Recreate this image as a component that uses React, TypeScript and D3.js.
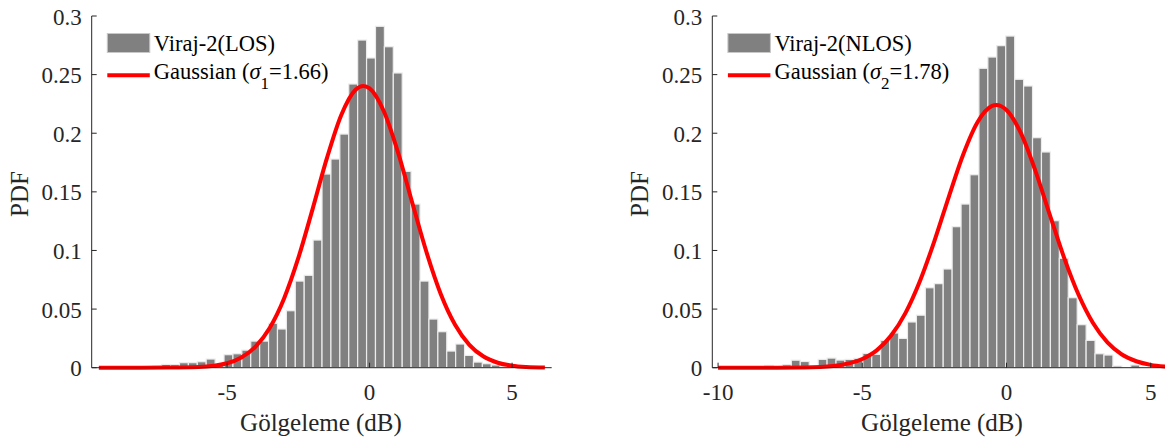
import React from "react";
import * as d3 from "d3";

// ---- Data ----
const losBinStart = -7.608;
const losBinWidth = 0.3126;
const losDensity = [
  0.0014, 0.0028, 0.0026, 0.0043, 0.0043, 0.0051, 0.0074, 0.002, 0.0111, 0.0119,
  0.015, 0.0227, 0.0227, 0.0378, 0.033, 0.0486, 0.0739, 0.0788, 0.1089, 0.1652,
  0.178, 0.1993, 0.242, 0.2795, 0.2642, 0.2912, 0.2738, 0.2514, 0.1675, 0.1396,
  0.0739, 0.0415, 0.0307, 0.0142, 0.0202, 0.0105, 0.0048, 0.0034, 0.0023, 0.001,
];

const nlosBinStart = -8.388;
const nlosBinWidth = 0.3097;
const nlosDensity = [
  0.002, 0, 0.0025, 0.0064, 0.0053, 0, 0.0071, 0.0082, 0.0065, 0.0071,
  0.008, 0.0122, 0.0114, 0.0233, 0.0296, 0.025, 0.039, 0.0448, 0.0682, 0.0717,
  0.0842, 0.1203, 0.1396, 0.1646, 0.2554, 0.265, 0.2747, 0.2829, 0.246, 0.2403,
  0.1962, 0.184, 0.1254, 0.0933, 0.0597, 0.0367, 0.0233, 0.0119, 0.0108, 0.0014,
  0, 0.0023, 0,
];

// Gaussian fit curves
const losCurveX = [-9.5, -8, -7, -6, -5, -4.5, -4, -3.5, -3, -2.5, -2, -1.5, -1, -0.5, -0.22, 0, 0.5, 1, 1.5, 2, 2.5, 3, 3.5, 4, 4.5, 5, 5.5, 6.15];
const losCurveY = [0, 0, 0.0001, 0.0006, 0.0038, 0.0087, 0.018, 0.0341, 0.0591, 0.0936, 0.1353, 0.1785, 0.2152, 0.2369, 0.2403, 0.2382, 0.2187, 0.1834, 0.1405, 0.0983, 0.0627, 0.0366, 0.0195, 0.0095, 0.0042, 0.0017, 0.0006, 0.0001];

const nlosCurveX = [-10, -8, -7, -6, -5, -4.5, -4, -3.5, -3, -2.5, -2, -1.5, -1, -0.5, -0.35, 0, 0.5, 1, 1.5, 2, 2.5, 3, 3.5, 4, 4.5, 5, 5.5, 6];
const nlosCurveY = [0, 0, 0.0002, 0.0015, 0.0074, 0.0148, 0.0274, 0.0468, 0.074, 0.108, 0.1458, 0.1819, 0.2096, 0.2233, 0.2241, 0.2198, 0.2, 0.1681, 0.1306, 0.0937, 0.0622, 0.0381, 0.0216, 0.0113, 0.0055, 0.0024, 0.001, 0.0004];

const yTicks = [0, 0.05, 0.1, 0.15, 0.2, 0.25, 0.3];
const yTickLabels = ["0", "0.05", "0.1", "0.15", "0.2", "0.25", "0.3"];
const losXTicks = [-5, 0, 5];
const nlosXTicks = [-10, -5, 0, 5];

const losLegend = "Viraj-2(LOS)";
const nlosLegend = "Viraj-2(NLOS)";
const losSigmaSub = "1";
const nlosSigmaSub = "2";
const losSigma = "1.66";
const nlosSigma = "1.78";
const xLabel = "Gölgeleme (dB)";
const yLabel = "PDF";

const FONT = "'Liberation Serif', 'Times New Roman', serif";
const AXIS = "#262626";

type PanelProps = {
  xDomain: [number, number];
  xRange: [number, number];
  binStart: number;
  binWidth: number;
  density: number[];
  curveX: number[];
  curveY: number[];
  xTicks: number[];
  legend: string;
  sigmaSub: string;
  sigma: string;
  yLabelX: number;
  xLabelX: number;
  clipId: string;
};

function Panel(p: PanelProps) {
  const x = d3.scaleLinear().domain(p.xDomain).range(p.xRange);
  const y = d3.scaleLinear().domain([0, 0.3]).range([367.7, 16]);
  const [x0, x1] = p.xRange;
  const y0 = y(0);
  const line = d3
    .line<number>()
    .x((_, i) => x(p.curveX[i]))
    .y((d) => y(d))
    .curve(d3.curveMonotoneX);
  const lx = x0 + 15.6;
  return (
    <g>
      <defs>
        <clipPath id={p.clipId}>
          <rect x={x0 - 6} y={0} width={x1 - x0 + 12} height={380} />
        </clipPath>
      </defs>
      <g clipPath={`url(#${p.clipId})`}>
        {p.density.map((d, i) => {
          const a = p.binStart + i * p.binWidth;
          const b = a + p.binWidth;
          if (d <= 0) return null;
          return (
            <rect
              key={i}
              x={x(a)}
              y={y(d)}
              width={x(b) - x(a)}
              height={y0 - y(d)}
              fill="#808080"
              stroke="#ececec"
              strokeWidth={1.2}
            />
          );
        })}
        <path d={line(p.curveY) || ""} fill="none" stroke="#ff0000" strokeWidth={4} />
      </g>
      {/* axes */}
      <line x1={x0} x2={x1} y1={y0} y2={y0} stroke={AXIS} strokeWidth={1} />
      <line x1={x0} x2={x0} y1={y0} y2={y(0.3)} stroke={AXIS} strokeWidth={1} />
      {yTicks.map((t, i) => (
        <g key={i}>
          <line x1={x0} x2={x0 + 5} y1={y(t)} y2={y(t)} stroke={AXIS} strokeWidth={1} />
          <text
            x={x0 - 10}
            y={y(t) + 8.5}
            textAnchor="end"
            fontFamily={FONT}
            fontSize={23}
            fill={AXIS}
          >
            {yTickLabels[i]}
          </text>
        </g>
      ))}
      {p.xTicks.map((t) => (
        <g key={t}>
          <line x1={x(t)} x2={x(t)} y1={y0} y2={y0 - 5} stroke={AXIS} strokeWidth={1} />
          <text x={x(t)} y={400} textAnchor="middle" fontFamily={FONT} fontSize={23} fill={AXIS}>
            {t < 0 ? `-${Math.abs(t)}` : `${t}`}
          </text>
        </g>
      ))}
      <text
        transform={`translate(${p.yLabelX},194) rotate(-90)`}
        textAnchor="middle"
        fontFamily={FONT}
        fontSize={25}
        fill={AXIS}
      >
        {yLabel}
      </text>
      <text x={p.xLabelX} y={430.5} textAnchor="middle" fontFamily={FONT} fontSize={25} fill={AXIS}>
        {xLabel}
      </text>
      {/* legend */}
      <rect x={lx} y={33.5} width={42.5} height={19} fill="#808080" stroke="#c8c8c8" strokeWidth={1} />
      <text x={lx + 46.5} y={50.5} fontFamily={FONT} fontSize={22.5} fill="#000">
        {p.legend}
      </text>
      <line x1={lx} x2={lx + 42.5} y1={75.3} y2={75.3} stroke="#ff0000" strokeWidth={4} />
      <text x={lx + 46.5} y={78.7} fontFamily={FONT} fontSize={22.5} fill="#000">
        {"Gaussian ("}
        <tspan fontStyle="italic">σ</tspan>
        <tspan fontSize={17} dy={10.5}>
          {p.sigmaSub}
        </tspan>
        <tspan dy={-10.5}>{`=${p.sigma})`}</tspan>
      </text>
    </g>
  );
}

export default function App() {
  return (
    <svg
      width={1165}
      height={439}
      style={{ position: "absolute", left: 0, top: 0, background: "#fff" }}
    >
      <rect x={0} y={0} width={1165} height={439} fill="#fff" />
      <Panel
        xDomain={[-9.75, 6.39]}
        xRange={[91.7, 551.7]}
        binStart={losBinStart}
        binWidth={losBinWidth}
        density={losDensity}
        curveX={losCurveX}
        curveY={losCurveY}
        xTicks={losXTicks}
        legend={losLegend}
        sigmaSub={losSigmaSub}
        sigma={losSigma}
        yLabelX={28.3}
        xLabelX={321}
        clipId="clipL"
      />
      <Panel
        xDomain={[-10.2, 5.496]}
        xRange={[712.3, 1165]}
        binStart={nlosBinStart}
        binWidth={nlosBinWidth}
        density={nlosDensity}
        curveX={nlosCurveX}
        curveY={nlosCurveY}
        xTicks={nlosXTicks}
        legend={nlosLegend}
        sigmaSub={nlosSigmaSub}
        sigma={nlosSigma}
        yLabelX={648.3}
        xLabelX={942}
        clipId="clipR"
      />
    </svg>
  );
}
